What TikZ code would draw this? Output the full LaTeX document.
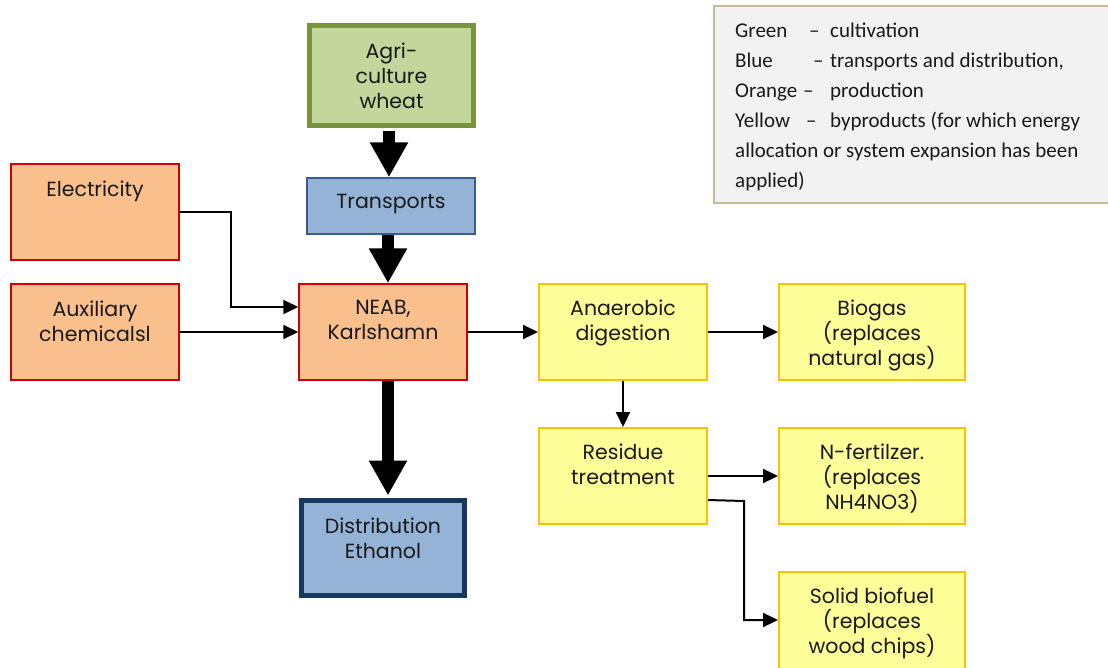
\documentclass[tikz,border=0pt]{standalone}
\usepackage{fontspec}
\newfontfamily\boxfont{Poppins}
\newfontfamily\legfont{Carlito}
\usetikzlibrary{arrows.meta,calc}
\definecolor{grfill}{HTML}{C3D69B}
\definecolor{grline}{HTML}{77933C}
\definecolor{blfill}{HTML}{95B3D7}
\definecolor{blline}{HTML}{385D8A}
\definecolor{dkblue}{HTML}{17375E}
\definecolor{orfill}{HTML}{F9C08E}
\definecolor{orline}{HTML}{D00000}
\definecolor{yefill}{HTML}{FFFF99}
\definecolor{yeline}{HTML}{FFC000}
\definecolor{lgfill}{HTML}{F2F2F2}
\definecolor{lgline}{HTML}{C4BD97}
\begin{document}
\begin{tikzpicture}[x=1pt,y=-1pt,
  greenbox/.style={draw=grline,fill=grfill,line width=5pt,minimum width=164pt,minimum height=100pt,inner sep=0pt},
  bluebox/.style={draw=blline,fill=blfill,line width=1.5pt,minimum width=168pt,minimum height=56pt,inner sep=0pt},
  distbox/.style={draw=dkblue,fill=blfill,line width=5pt,minimum width=163pt,minimum height=95pt,inner sep=0pt},
  orbox/.style={draw=orline,fill=orfill,line width=1.5pt,minimum width=168pt,minimum height=96pt,inner sep=0pt},
  yebox/.style={draw=yeline,fill=yefill,line width=2pt,minimum width=168pt,minimum height=96pt,inner sep=0pt},
  yewide/.style={yebox,minimum width=186pt},
  btxt/.style={font=\boxfont\fontsize{20.5}{25}\selectfont,align=center,inner sep=0pt,anchor=north,text=black!90},
  ltxt/.style={font=\legfont\fontsize{21}{30}\selectfont,inner sep=0pt,anchor=base west,text=black!90},
  bigarrow/.style={line width=12pt,-{Triangle[length=35pt,width=36pt]}},
  thinarrow/.style={line width=2pt,-{Triangle[length=15pt,width=14pt]}},
]
\useasboundingbox (0,0) rectangle (1108,667);
% legend
\node[draw=lgline,fill=lgfill,line width=2pt,minimum width=396pt,minimum height=197pt,inner sep=0pt] (legend) at (912,104.5) {};
\node[ltxt] (l1a) at (735,37) {Green};
\node[ltxt] (l1b) at (809,37) {–};
\node[ltxt] (l1c) at (830,37) {cultivation};
\node[ltxt] (l2a) at (735,67) {Blue};
\node[ltxt] (l2b) at (813,67) {–};
\node[ltxt] (l2c) at (830,67) {transports and distribution,};
\node[ltxt] (l3a) at (735,97) {Orange};
\node[ltxt] (l3b) at (803,97) {–};
\node[ltxt] (l3c) at (830,97) {production};
\node[ltxt] (l4a) at (735,127) {Yellow};
\node[ltxt] (l4b) at (806,127) {–};
\node[ltxt] (l4c) at (830,127) {byproducts (for which energy};
\node[ltxt] (l5) at (735,157) {allocation or system expansion has been};
\node[ltxt] (l6) at (735,187) {applied)};
% boxes
\node[greenbox] (agri) at (391.5,75.5) {};
\node[bluebox] (trans) at (391,206) {};
\node[orbox] (elec) at (95,212) {};
\node[orbox] (aux) at (95,332) {};
\node[orbox] (neab) at (383,332) {};
\node[distbox] (dist) at (383,548) {};
\node[yebox] (anaer) at (623,332) {};
\node[yewide] (biogas) at (872,332) {};
\node[yebox] (resid) at (623,476) {};
\node[yewide] (nfert) at (872,476) {};
\node[yewide,minimum height=100pt] (solid) at (872,622) {};
% texts
\node[btxt] (agrit) at ($(agri.north)+(0,20)$) {Agri-\\culture\\wheat};
\node[btxt] (transt) at ($(trans.north)+(0,17)$) {Transports};
\node[btxt] (elect) at ($(elec.north)+(0,17)$) {Electricity};
\node[btxt] (auxt) at ($(aux.north)+(0,17)$) {Auxiliary\\chemicalsl};
\node[btxt] (neabt) at ($(neab.north)+(0,17)$) {NEAB,\\Karlshamn};
\node[btxt] (distt) at ($(dist.north)+(0,20)$) {Distribution\\Ethanol};
\node[btxt] (anaert) at ($(anaer.north)+(0,17)$) {Anaerobic\\digestion};
\node[btxt] (biogast) at ($(biogas.north)+(0,17)$) {Biogas\\(replaces\\natural gas)};
\node[btxt] (residt) at ($(resid.north)+(0,17)$) {Residue\\treatment};
\node[btxt] (nfertt) at ($(nfert.north)+(0,17)$) {N-fertilzer.\\(replaces\\NH4NO3)};
\node[btxt] (solidt) at ($(solid.north)+(0,17)$) {Solid biofuel\\(replaces\\wood chips)};
% big arrows
\draw[bigarrow] ($(agri.south)+(-2.5,2.5)$) -- ($(trans.north)+(-2,0)$);
\draw[bigarrow] ($(trans.south)+(-3,0)$) -- ($(neab.north)+(5,0)$);
\draw[bigarrow] ($(neab.south)+(5,0)$) -- ($(dist.north)+(5,-2.5)$);
% thin arrows
\draw[thinarrow] (elec.east) -- ++(51,0) |- ($(neab.west)+(0,-25)$);
\draw[thinarrow] (aux.east) -- (neab.west);
\draw[thinarrow] (neab.east) -- (anaer.west);
\draw[thinarrow] (anaer.east) -- (biogas.west);
\draw[thinarrow] (anaer.south) -- (resid.north);
\draw[thinarrow] (resid.east) -- (nfert.west);
\draw[thinarrow] ($(resid.east)+(0,24)$) -- ++(36,1) |- ($(solid.west)+(0,-2)$);
\end{tikzpicture}
\end{document}
